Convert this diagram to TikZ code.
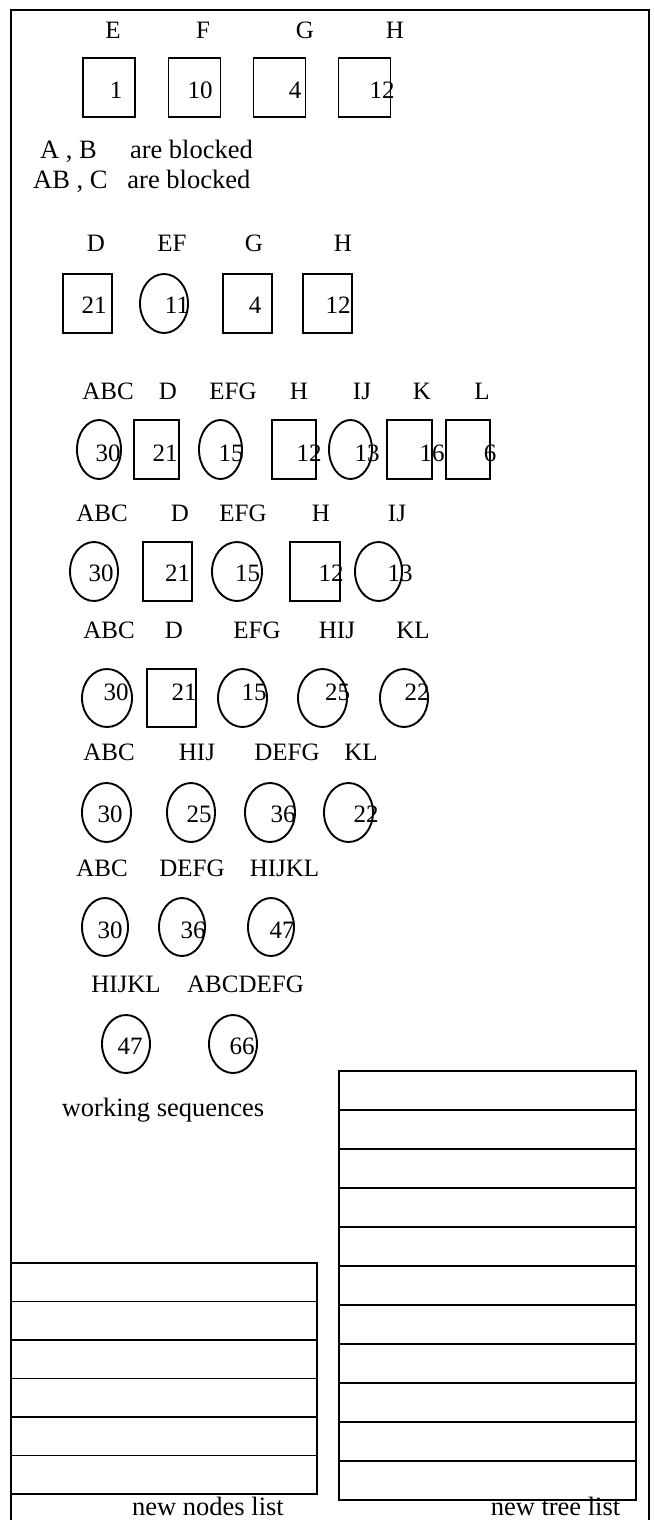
\documentclass[tikz,border=0pt]{standalone}
\usepackage{fontspec}
\setmainfont{Liberation Serif}
\usetikzlibrary{shapes.geometric}
\begin{document}
\begin{tikzpicture}[x=1pt,y=-1pt,
  sq/.style={draw,rectangle,line width=1.9pt,inner sep=0pt,minimum width=#1,minimum height=59pt},
  sq/.default=49pt,
  el/.style={draw,ellipse,line width=1.9pt,inner sep=0pt,minimum width=#1,minimum height=59pt},
  el/.default=48pt,
  lbl/.style={anchor=base,inner sep=0pt,font=\fontsize{25}{28}\selectfont},
  num/.style={anchor=base,inner sep=0pt,font=\fontsize{25}{28}\selectfont},
  txt/.style={anchor=base,inner sep=0pt,font=\fontsize{26.5}{30}\selectfont},
  cell/.style={draw,rectangle,line width=1.9pt,inner sep=0pt,minimum width=#1},
  frame/.style={line width=2.8pt}]
\useasboundingbox (0,0) rectangle (653,1520);
\begin{scope}
\clip (0,0) rectangle (653,1520);
\coordinate (fbl) at (11,1530);
\coordinate (ftl) at (11,10);
\coordinate (ftr) at (649,10);
\coordinate (fbr) at (649,1530);
\draw[frame] (fbl) -- (ftl) -- (ftr) -- (fbr);
\end{scope}

% Row 1
\node[lbl] (l1a) at (113,38) {E};
\node[lbl] (l1b) at (203,38) {F};
\node[lbl] (l1c) at (305,38) {G};
\node[lbl] (l1d) at (395,38) {H};
\node[sq=52pt] (s1a) at (109,87.5) {};
\node[sq=52pt] (s1b) at (194.5,87.5) {};
\node[sq=52pt] (s1c) at (279.5,87.5) {};
\node[sq=52pt] (s1d) at (364.5,87.5) {};
\node[num] (n1a) at (116,98) {1};
\node[num] (n1b) at (200,98) {10};
\node[num] (n1c) at (295,98) {4};
\node[num] (n1d) at (382,98) {12};

\node[txt,anchor=base west] (blk1) at (40,158) {A , B\quad\ are blocked};
\node[txt,anchor=base west] (blk2) at (33,188) {AB , C\ \ \ are blocked};

% Row 2
\node[lbl] (l2a) at (96,251.5) {D};
\node[lbl] (l2b) at (172,251.5) {EF};
\node[lbl] (l2c) at (254,251.5) {G};
\node[lbl] (l2d) at (343,251.5) {H};
\node[sq] (s2a) at (87.5,303.5) {};
\node[el] (s2b) at (164,303.5) {};
\node[sq] (s2c) at (247.5,303.5) {};
\node[sq] (s2d) at (327.5,303.5) {};
\node[num] (n2a) at (94,313) {21};
\node[num] (n2b) at (177,313) {11};
\node[num] (n2c) at (255,313) {4};
\node[num] (n2d) at (338,313) {12};

% Row 3
\node[lbl] (l3a) at (108,399) {ABC};
\node[lbl] (l3b) at (168,399) {D};
\node[lbl] (l3c) at (233,399) {EFG};
\node[lbl] (l3d) at (299,399) {H};
\node[lbl] (l3e) at (362,399) {IJ};
\node[lbl] (l3f) at (422,399) {K};
\node[lbl] (l3g) at (482,399) {L};
\node[el=44pt] (s3a) at (99,449.5) {};
\node[sq=45pt] (s3b) at (156.5,449.5) {};
\node[el=43pt] (s3c) at (220.5,449.5) {};
\node[sq=44pt] (s3d) at (294,449.5) {};
\node[el=43pt] (s3e) at (350.5,449.5) {};
\node[sq=45pt] (s3f) at (409.5,449.5) {};
\node[sq=44pt] (s3g) at (468,449.5) {};
\node[num] (n3a) at (108,461) {30};
\node[num] (n3b) at (165,461) {21};
\node[num] (n3c) at (231,461) {15};
\node[num] (n3d) at (309,461) {12};
\node[num] (n3e) at (367,461) {13};
\node[num] (n3f) at (432,461) {16};
\node[num] (n3g) at (490,461) {6};

% Row 4
\node[lbl] (l4a) at (102,521.5) {ABC};
\node[lbl] (l4b) at (180,521.5) {D};
\node[lbl] (l4c) at (243,521.5) {EFG};
\node[lbl] (l4d) at (321,521.5) {H};
\node[lbl] (l4e) at (397,521.5) {IJ};
\node[el=48pt] (s4a) at (94,571.5) {};
\node[sq=49pt] (s4b) at (167.5,571.5) {};
\node[el=50pt] (s4c) at (237,571.5) {};
\node[sq=50pt] (s4d) at (315,571.5) {};
\node[el=47pt] (s4e) at (378.5,571.5) {};
\node[num] (n4a) at (101,581.5) {30};
\node[num] (n4b) at (177.5,581.5) {21};
\node[num] (n4c) at (247.5,581.5) {15};
\node[num] (n4d) at (331,581.5) {12};
\node[num] (n4e) at (400,581.5) {13};

% Row 5
\node[lbl] (l5a) at (109,638) {ABC};
\node[lbl] (l5b) at (174,638) {D};
\node[lbl] (l5c) at (257,638) {EFG};
\node[lbl] (l5d) at (337,638) {HIJ};
\node[lbl] (l5e) at (413,638) {KL};
\node[el=50pt,minimum height=58pt] (s5a) at (107,698) {};
\node[sq=49pt,minimum height=58pt] (s5b) at (171.5,698) {};
\node[el=49pt,minimum height=58pt] (s5c) at (242.5,698) {};
\node[el=49pt,minimum height=58pt] (s5d) at (322.5,698) {};
\node[el=48pt,minimum height=58pt] (s5e) at (404,698) {};
\node[num] (n5a) at (116,700) {30};
\node[num] (n5b) at (184,700) {21};
\node[num] (n5c) at (254,700) {15};
\node[num] (n5d) at (337.5,700) {25};
\node[num] (n5e) at (417,700) {22};

% Row 6
\node[lbl] (l6a) at (109,760) {ABC};
\node[lbl] (l6b) at (197,760) {HIJ};
\node[lbl] (l6c) at (287,760) {DEFG};
\node[lbl] (l6d) at (361,760) {KL};
\node[el=49pt] (s6a) at (106.5,812.5) {};
\node[el=48pt] (s6b) at (191,812.5) {};
\node[el=50pt] (s6c) at (270,812.5) {};
\node[el=49pt] (s6d) at (348.5,812.5) {};
\node[num] (n6a) at (110,822) {30};
\node[num] (n6b) at (199,822) {25};
\node[num] (n6c) at (283,822) {36};
\node[num] (n6d) at (366,822) {22};

% Row 7
\node[lbl] (l7a) at (102,876.5) {ABC};
\node[lbl] (l7b) at (192,876.5) {DEFG};
\node[lbl] (l7c) at (284.5,876.5) {HIJKL};
\node[el=46pt,minimum height=58pt] (s7a) at (105,927) {};
\node[el=46pt,minimum height=58pt] (s7b) at (182,927) {};
\node[el=46pt,minimum height=58pt] (s7c) at (271,927) {};
\node[num] (n7a) at (110,938) {30};
\node[num] (n7b) at (193,938) {36};
\node[num] (n7c) at (282,938) {47};

% Row 8
\node[lbl] (l8a) at (126,992.5) {HIJKL};
\node[lbl] (l8b) at (245.5,992.5) {ABCDEFG};
\node[el=48pt,minimum height=58pt] (s8a) at (126,1044) {};
\node[el=48pt,minimum height=58pt] (s8b) at (233,1044) {};
\node[num] (n8a) at (130,1054) {47};
\node[num] (n8b) at (242,1054) {66};

\node[txt] (ws) at (163,1116) {working sequences};

% New tree list (right)
\foreach \i in {0,...,10}{
  \node[cell=297pt,minimum height=39pt] (tree\i) at (487.5,{1071+39*\i+19.5}) {};
}
% New nodes list (left)
\foreach \i in {0,...,5}{
  \node[cell=306pt,minimum height=38.5pt] (nodes\i) at (164,{1263+38.5*\i+19.25}) {};
}
\node[txt] (nnl) at (208,1515) {new nodes list};
\node[txt] (ntl) at (555.5,1515) {new tree list};
\end{tikzpicture}
\end{document}
